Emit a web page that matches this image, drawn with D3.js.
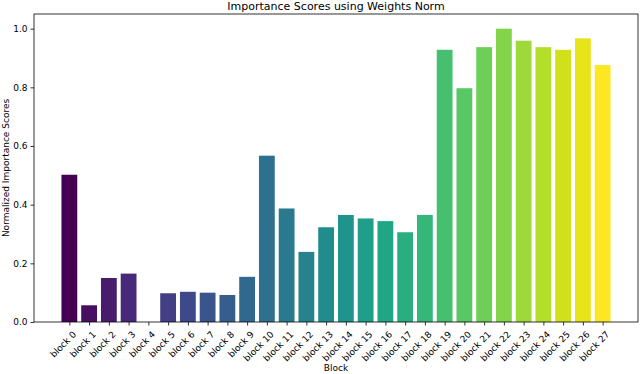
<!DOCTYPE html>
<html>
<head>
<meta charset="utf-8">
<script src="https://cdn.jsdelivr.net/npm/d3@7"></script>
<style>
  body { margin: 0; background: #fff; }
  text { font-family: "DejaVu Sans", sans-serif; fill: #000; }
</style>
</head>
<body>
<div class="chart"></div>
<script>
const blocks = d3.range(28).map(i => "block " + i);
const scores = [0.502, 0.057, 0.150, 0.165, 0.0, 0.098, 0.103, 0.100, 0.092, 0.154,
    0.567, 0.387, 0.239, 0.323, 0.365, 0.353, 0.344, 0.306, 0.365, 0.928,
    0.797, 0.937, 1.0, 0.959, 0.937, 0.928, 0.967, 0.876];
const yTicks = [0, 0.2, 0.4, 0.6, 0.8, 1.0];

const svgWidth = 640;
const svgHeight = 374;
const margin = { top: 14, right: 2, bottom: 52, left: 34 };
const width = svgWidth - margin.left - margin.right;
const height = svgHeight - margin.top - margin.bottom;

const svg = d3.select(".chart")
    .append("svg")
    .attr("width", svgWidth)
    .attr("height", svgHeight);

const chartGroup = svg.append("g")
    .attr("transform", `translate(${margin.left}, ${margin.top})`);

// matplotlib-style limits: bars of width 0.8 plus 5% padding
const n = blocks.length;
const span = (n - 1) + 0.8;
const xLinear = d3.scaleLinear()
    .domain([-0.4 - 0.05 * span, n - 1 + 0.4 + 0.05 * span])
    .range([0, width]);

const yLinear = d3.scaleLinear()
    .domain([0, 1.05])
    .range([height, 0]);

const color = i => d3.interpolateViridis(i / (n - 1));

chartGroup.selectAll(".bar")
    .data(scores)
    .enter()
    .append("rect")
    .attr("class", "bar")
    .attr("x", (d, i) => xLinear(i - 0.4))
    .attr("width", xLinear(0.8) - xLinear(0))
    .attr("y", d => yLinear(d))
    .attr("height", d => height - yLinear(d))
    .attr("fill", (d, i) => color(i));

// y axis
const leftAxis = d3.axisLeft(yLinear)
    .tickValues(yTicks)
    .tickFormat(d3.format(".1f"))
    .tickSize(3.5)
    .tickPadding(3);

const yAxis = chartGroup.append("g").call(leftAxis);
yAxis.select(".domain").remove();
yAxis.selectAll("text").style("font-size", "9px");
yAxis.selectAll("line").attr("stroke", "#000").attr("stroke-width", 0.8);

// x axis
const bottomAxis = d3.axisBottom(xLinear)
    .tickValues(d3.range(n))
    .tickFormat(i => blocks[i])
    .tickSize(3.5);

const xAxis = chartGroup.append("g")
    .attr("transform", `translate(0, ${height})`)
    .call(bottomAxis);
xAxis.select(".domain").remove();
xAxis.selectAll("line").attr("stroke", "#000").attr("stroke-width", 0.8);
xAxis.selectAll("text")
    .style("font-size", "9px")
    .attr("text-anchor", "end")
    .attr("y", 0)
    .attr("dy", 0)
    .attr("transform", "translate(7, 13) rotate(-45)");

// frame
chartGroup.append("rect")
    .attr("width", width)
    .attr("height", height)
    .attr("fill", "none")
    .attr("stroke", "#000")
    .attr("stroke-width", 0.8);

// title and labels
svg.append("text")
    .attr("x", margin.left + width / 2)
    .attr("y", 10)
    .attr("text-anchor", "middle")
    .style("font-size", "11px")
    .text("Importance Scores using Weights Norm");

svg.append("text")
    .attr("x", margin.left + width / 2)
    .attr("y", 371)
    .attr("text-anchor", "middle")
    .style("font-size", "9px")
    .text("Block");

svg.append("text")
    .attr("transform", `translate(9, ${margin.top + height / 2}) rotate(-90)`)
    .attr("text-anchor", "middle")
    .style("font-size", "9px")
    .text("Normalized Importance Scores");
</script>
</body>
</html>
